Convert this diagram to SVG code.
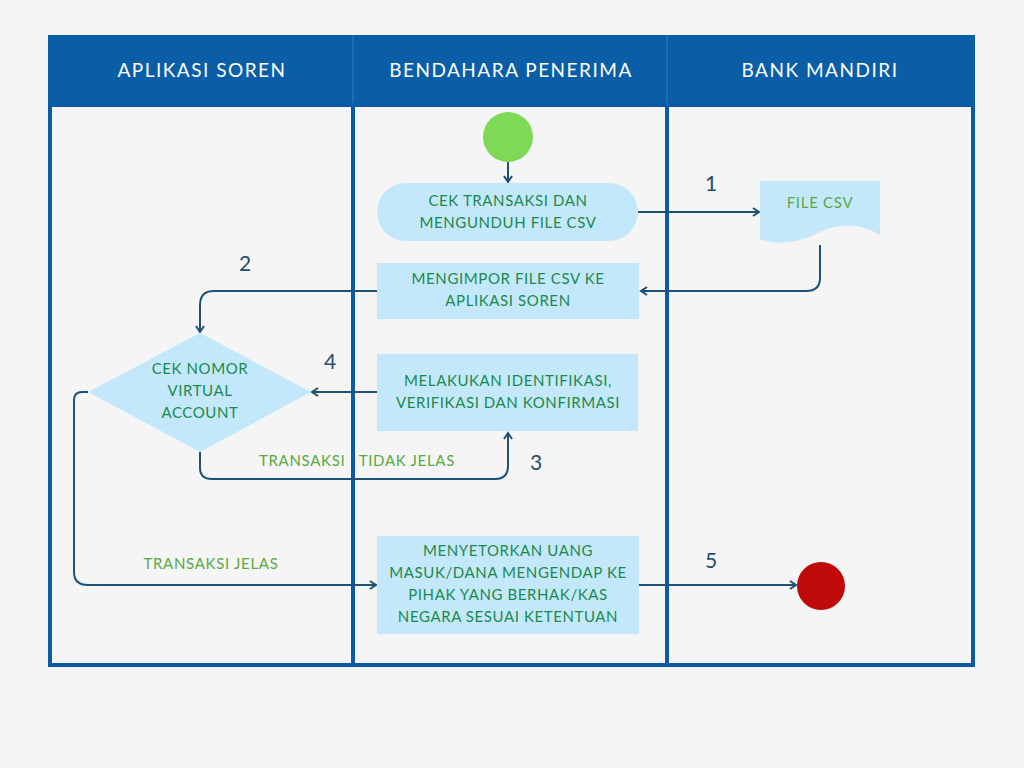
<svg xmlns="http://www.w3.org/2000/svg" width="1024" height="768" viewBox="0 0 1024 768">
<style>
.hdr{font-family:Lato,"Liberation Sans",sans-serif;font-size:19px;fill:#ffffff;text-anchor:middle;letter-spacing:1.5px}
.nt{font-family:Lato,"Liberation Sans",sans-serif;font-size:15px;fill:#1a8a4c;text-anchor:middle;letter-spacing:0.6px}
.lt{font-family:Lato,"Liberation Sans",sans-serif;font-size:15px;fill:#5aa843;text-anchor:middle;letter-spacing:0.7px;white-space:pre}
.num{font-family:Lato,"Liberation Sans",sans-serif;font-size:21px;fill:#1f4e6e;text-anchor:middle}
.box{fill:#c4e8fb}
.con{fill:none;stroke:#1d5275;stroke-width:2}
.lane{stroke:#0b5aa6;stroke-width:4;fill:none}
</style>
<defs>
<marker id="arr" markerWidth="10" markerHeight="10" refX="8" refY="5" orient="auto" markerUnits="userSpaceOnUse">
<path d="M2,1 L8,5 L2,9" fill="none" stroke="#1d5275" stroke-width="2"/>
</marker>
</defs>
<rect width="1024" height="768" fill="#f5f5f5"/>
<g id="swimlanes">
<rect x="48" y="35" width="927" height="72" fill="#0a5ea8"/>
<line x1="353" y1="35" x2="353" y2="107" stroke="#2a70b5" stroke-width="1.5"/>
<line x1="667" y1="35" x2="667" y2="107" stroke="#2a70b5" stroke-width="1.5"/>
<rect x="50" y="105" width="923" height="560" class="lane"/>
<line x1="353" y1="105" x2="353" y2="665" class="lane"/>
<line x1="667" y1="105" x2="667" y2="665" class="lane"/>
<text x="202" y="77" class="hdr">APLIKASI SOREN</text>
<text x="511" y="77" class="hdr">BENDAHARA PENERIMA</text>
<text x="820" y="77" class="hdr">BANK MANDIRI</text>
</g>
<g id="connectors">
<line x1="508" y1="162" x2="508" y2="182" class="con" marker-end="url(#arr)"/>
<line x1="638" y1="212" x2="759" y2="212" class="con" marker-end="url(#arr)"/>
<path d="M820,245 V278 Q820,291 806,291 H641" class="con" marker-end="url(#arr)"/>
<path d="M377,291 H214 Q200,291 200,305 V332" class="con" marker-end="url(#arr)"/>
<line x1="377" y1="392" x2="312" y2="392" class="con" marker-end="url(#arr)"/>
<path d="M200,452 V468 Q200,479 212,479 H495 Q508,479 508,466 V433" class="con" marker-end="url(#arr)"/>
<path d="M88,392 H82 Q74,392 74,400 V572 Q74,585 88,585 H376" class="con" marker-end="url(#arr)"/>
<line x1="639" y1="585" x2="796" y2="585" class="con" marker-end="url(#arr)"/>
<text x="711" y="191" class="num">1</text>
<text x="245" y="271" class="num">2</text>
<text x="536" y="470" class="num">3</text>
<text x="330" y="369" class="num">4</text>
<text x="711" y="568" class="num">5</text>
<text x="357" y="466" class="lt" xml:space="preserve">TRANSAKSI   TIDAK JELAS</text>
<text x="211" y="569" class="lt">TRANSAKSI JELAS</text>
</g>
<g id="start"><circle cx="508" cy="137" r="25" fill="#7ed957"/></g>
<g id="cek-transaksi">
<rect x="377" y="183" width="261" height="58" rx="29" class="box"/>
<text x="508" y="206" class="nt">CEK TRANSAKSI DAN</text>
<text x="508" y="228" class="nt">MENGUNDUH FILE CSV</text>
</g>
<g id="file-csv">
<path d="M760,181 H880 V235 C862,224 842,222 820,232 C800,242 780,246 760,239 Z" class="box"/>
<text x="820" y="208" class="lt">FILE CSV</text>
</g>
<g id="mengimpor">
<rect x="377" y="263" width="262" height="56" class="box"/>
<text x="508" y="284" class="nt">MENGIMPOR FILE CSV KE</text>
<text x="508" y="306" class="nt">APLIKASI SOREN</text>
</g>
<g id="cek-nomor">
<path d="M200,333 L311,392 L200,452 L88,392 Z" class="box"/>
<text x="200" y="374" class="nt">CEK NOMOR</text>
<text x="200" y="396" class="nt">VIRTUAL</text>
<text x="200" y="418" class="nt">ACCOUNT</text>
</g>
<g id="melakukan">
<rect x="377" y="354" width="261" height="77" class="box"/>
<text x="508" y="386" class="nt">MELAKUKAN IDENTIFIKASI,</text>
<text x="508" y="408" class="nt">VERIFIKASI DAN KONFIRMASI</text>
</g>
<g id="menyetorkan">
<rect x="377" y="536" width="262" height="98" class="box"/>
<text x="508" y="556" class="nt">MENYETORKAN UANG</text>
<text x="508" y="578" class="nt">MASUK/DANA MENGENDAP KE</text>
<text x="508" y="600" class="nt">PIHAK YANG BERHAK/KAS</text>
<text x="508" y="622" class="nt">NEGARA SESUAI KETENTUAN</text>
</g>
<g id="end"><circle cx="821" cy="586" r="24" fill="#c00a0a"/></g>
</svg>
